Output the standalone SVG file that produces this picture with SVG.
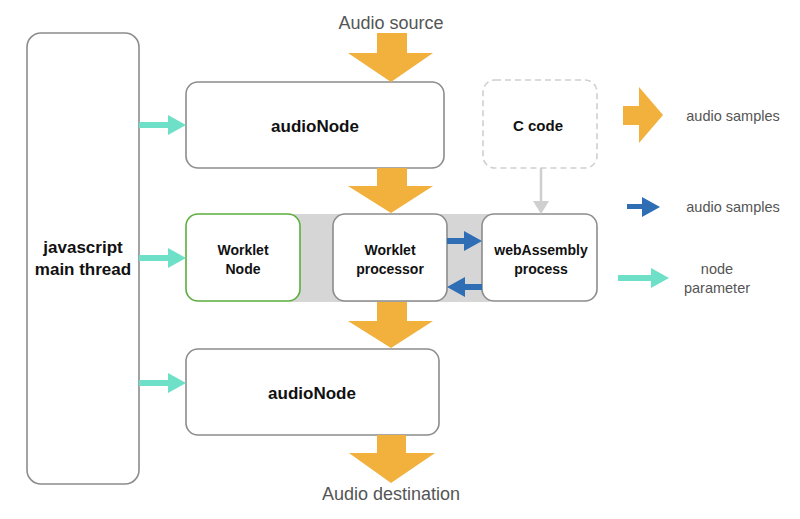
<svg xmlns="http://www.w3.org/2000/svg" width="800" height="519" viewBox="0 0 800 519">
<style>
.box{fill:#fff;stroke:#8c8c8c;stroke-width:1.6}
.t{font-family:"Liberation Sans",Arial,sans-serif;font-weight:bold;fill:#111;text-anchor:middle}
.l{font-family:"Liberation Sans",Arial,sans-serif;fill:#555;text-anchor:middle}
.or{fill:#f2b03c}
.bl{fill:#2f6db5}
.cy{fill:#6ee0c8}
</style>
<rect width="800" height="519" fill="#fff"/>
<rect x="290" y="214" width="200" height="88" fill="#d6d6d6"/>
<g id="main-thread"><rect class="box" x="27" y="33" width="112" height="451" rx="14"/><text class="t" x="83" y="253" font-size="17">javascript</text><text class="t" x="83" y="275" font-size="17">main thread</text></g>
<g id="audioNode-top"><rect class="box" x="186" y="82" width="258" height="86" rx="12"/><text class="t" x="315" y="132" font-size="17">audioNode</text></g>
<g id="c-code"><rect x="483" y="80" width="114" height="88" rx="12" fill="#fff" stroke="#cfcfcf" stroke-width="1.6" stroke-dasharray="6,4"/><text class="t" x="538" y="131" font-size="15">C code</text></g>
<g id="worklet-node"><rect x="186" y="214" width="114" height="87" rx="12" fill="#fff" stroke="#5aae3c" stroke-width="1.6"/><text class="t" x="243" y="255" font-size="14">Worklet</text><text class="t" x="243" y="274" font-size="14">Node</text></g>
<g id="worklet-processor"><rect class="box" x="333" y="214" width="114" height="87" rx="12"/><text class="t" x="390" y="255" font-size="14">Worklet</text><text class="t" x="390" y="274" font-size="14">processor</text></g>
<g id="webassembly"><rect class="box" x="482" y="214" width="115" height="87" rx="12"/><text class="t" x="541" y="255" font-size="14">webAssembly</text><text class="t" x="541" y="274" font-size="14">process</text></g>
<g id="audioNode-bottom"><rect class="box" x="186" y="349" width="253" height="86" rx="12"/><text class="t" x="312" y="399" font-size="17">audioNode</text></g>
<g id="connectors">
<polygon class="or" points="377,33 407,33 407,53 433,53 391,82 348,53 377,53"/>
<polygon class="or" points="377,168 407,168 407,186 433,186 391,213 348,186 377,186"/>
<polygon class="or" points="377,302 407,302 407,321 433,321 391,348 348,321 377,321"/>
<polygon class="or" points="377,435 406,435 406,453 435,453 391,483 349,453 377,453"/>
<polygon class="cy" points="139,122 168,122 168,115 186,125 168,135 168,128 139,128"/>
<polygon class="cy" points="139,255 168,255 168,248 186,258 168,268 168,261 139,261"/>
<polygon class="cy" points="139,380 168,380 168,373 186,383 168,393 168,386 139,386"/>
<polygon class="bl" points="447,238 464,238 464,231 482,241 464,251 464,244 447,244"/>
<polygon class="bl" points="482,284 465,284 465,277 447,287 465,297 465,290 482,290"/>
<line x1="541" y1="168" x2="541" y2="203" stroke="#cfcfcf" stroke-width="2.5"/>
<polygon points="533,201 549,201 541,214" fill="#cfcfcf"/>
</g>
<text class="l" x="391" y="29" font-size="18">Audio source</text>
<text class="l" x="391" y="500" font-size="18">Audio destination</text>
<g id="legend">
<polygon class="or" points="623,106 639,106 639,87 663,115 639,143 639,125 623,125"/>
<text class="l" x="733" y="121" font-size="14.5">audio samples</text>
<polygon class="bl" points="627,204 642,204 642,197 660,207 642,217 642,209 627,209"/>
<text class="l" x="733" y="212" font-size="14.5">audio samples</text>
<polygon class="cy" points="618,275 651,275 651,268 669,278 651,288 651,281 618,281"/>
<text class="l" x="717" y="274" font-size="14.5">node</text>
<text class="l" x="717" y="293" font-size="14.5">parameter</text>
</g>
</svg>
